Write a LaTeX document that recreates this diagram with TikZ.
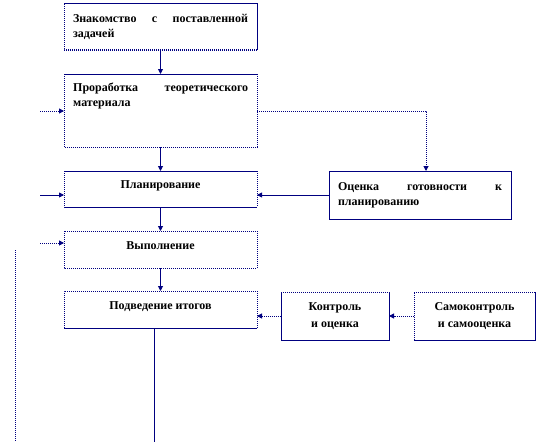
\documentclass[tikz,border=0pt]{standalone}
\usepackage{fontspec}
\setmainfont{Liberation Serif}
\usetikzlibrary{arrows.meta, positioning}
\definecolor{linenavy}{RGB}{0,0,128}

\begin{document}
\begin{tikzpicture}[x=1pt, y=-1pt, >={Triangle[length=5pt,width=5pt]},
        font=\fontsize{12}{15}\selectfont\bfseries,
        stage/.style={anchor=north west, inner sep=0pt, outer sep=0pt, align=center},
        dotline/.style={linenavy, line width=1pt, dash pattern=on 1pt off 1pt},
        solidline/.style={linenavy, line width=0.9pt}]
        \useasboundingbox (0,0) rectangle (537,444);

        % --- main chain of stages ---
        \node[stage, minimum width=193pt, minimum height=47pt, text width=175pt, align=justify] (task) at (64,3)
            {Знакомство с поставленной задачей};
        \node[stage, minimum width=193pt, minimum height=73pt] (theory) at (64,74) {};
        \node[anchor=north west, inner sep=0pt, text width=175pt, align=justify,
            below right=9pt and 9pt of theory.north west] (theorytext)
            {Проработка теоретического материала};
        \node[stage, minimum width=193pt, minimum height=36pt, text depth=8pt] (planning) at (64,171) {Планирование};
        \node[stage, minimum width=193pt, minimum height=37pt, text depth=8pt] (execution) at (64,231) {Выполнение};
        \node[stage, minimum width=193pt, minimum height=37pt, text depth=8pt] (summary) at (64,291) {Подведение итогов};

        % --- side stages ---
        \node[stage, minimum width=182pt, minimum height=48pt, text width=164pt, align=justify] (readiness) at (329,171)
            {Оценка готовности к планированию};
        \node[stage, minimum width=108pt, minimum height=48pt] (control) at (281,292) {Контроль\\[2pt]и оценка};
        \node[stage, minimum width=121pt, minimum height=48pt] (selfcheck) at (414,292) {Самоконтроль\\[2pt]и самооценка};

        % --- borders, partly dotted as in the scan ---
        \draw[solidline] (task.north west) -- (task.north east) -- (task.south east);
        \draw[dotline] (task.south east) -- (task.south west) -- (task.north west);
        \draw[solidline] (theory.north west) -- (theory.north east);
        \draw[dotline] (theory.north east) -- (theory.south east) -- (theory.south west) -- (theory.north west);
        \draw[solidline] (planning.north west) -- (planning.north east);
        \draw[solidline] (planning.south west) -- (planning.south east);
        \draw[dotline] (planning.north west) -- (planning.south west);
        \draw[dotline] (planning.north east) -- (planning.south east);
        \draw[dotline] (execution.north west) rectangle (execution.south east);
        \draw[dotline] (summary.south west) -- (summary.north west) -- (summary.north east) -- (summary.south east);
        \draw[solidline] (summary.south west) -- (summary.south east);
        \draw[solidline] (readiness.north west) rectangle (readiness.south east);
        \draw[dotline] (control.north west) -- (control.north east);
        \draw[solidline] (control.north east) -- (control.south east) -- (control.south west) -- (control.north west);
        \draw[dotline] (selfcheck.south west) -- (selfcheck.north west) -- (selfcheck.north east);
        \draw[solidline] (selfcheck.north east) -- (selfcheck.south east) -- (selfcheck.south west);

        % --- flow down the chain ---
        \draw[solidline, ->] (task) -- (theory);
        \draw[solidline, ->] (theory) -- (planning);
        \draw[solidline, ->] (planning) -- (execution);
        \draw[solidline, ->] (execution) -- (summary);

        % --- inputs from the left ---
        \coordinate (feedA) at (40,111);
        \coordinate (feedB) at (40,195);
        \coordinate (feedC) at (40,243);
        \draw[dotline, ->] (feedA) -- (feedA -| theory.west);
        \draw[solidline, ->] (feedB) -- (feedB -| planning.west);
        \draw[dotline, ->] (feedC) -- (feedC -| execution.west);

        % --- side links ---
        \draw[dotline, ->] (feedA -| theory.east) -| ([xshift=6pt]readiness.north);
        \draw[solidline, ->] (readiness.west) -- (readiness.west -| planning.east);
        \draw[dotline, ->] (control.west) -- (control.west -| summary.east);
        \draw[dotline, ->] (selfcheck) -- (control);

        % --- open lines at the bottom ---
        \coordinate (railtop) at (15,250);
        \coordinate (railbot) at (15,442);
        \draw[dotline] (railtop) -- (railbot);
        \coordinate (tailend) at (154,442);
        \draw[solidline] (tailend |- summary.south) -- (tailend);
\end{tikzpicture}
\end{document}
